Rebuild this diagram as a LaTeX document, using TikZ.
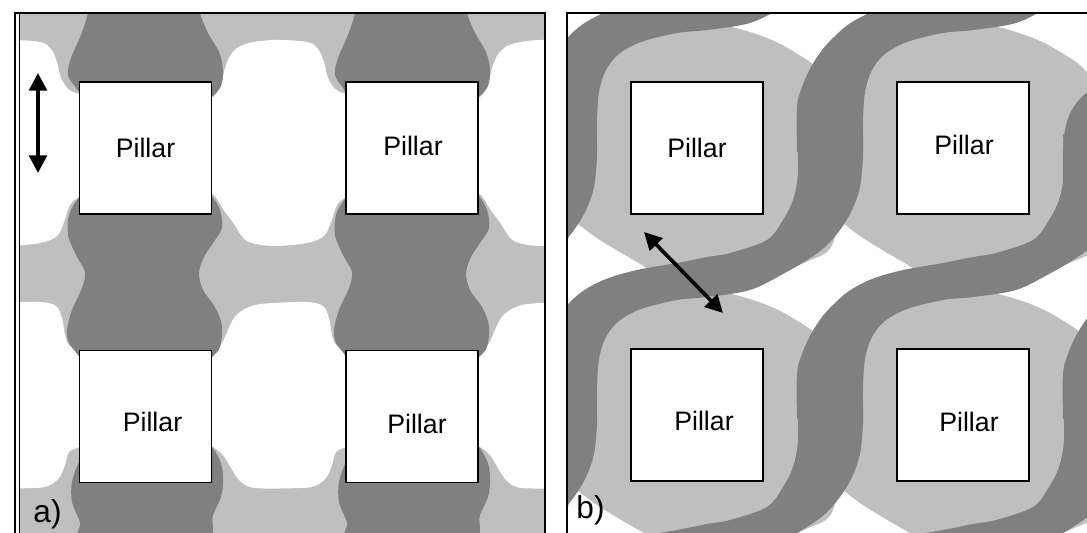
\documentclass[tikz,border=0pt]{standalone}
\usepackage{fontspec}
\setmainfont{Liberation Sans}
\usetikzlibrary{arrows.meta}

\definecolor{poreDark}{gray}{0.5}
\definecolor{poreLight}{gray}{0.75}

\begin{document}
\begin{tikzpicture}[x=0.025cm, y=-0.025cm,
        pillar/.style={rectangle, draw=black, fill=white, line width=1.3pt, minimum size=3.3cm, inner sep=0pt},
        tag/.style={font=\fontsize{19}{23}\selectfont},
        panelTag/.style={font=\fontsize{22.5}{26}\selectfont},
        frame/.style={line width=1.4pt},
        gap/.style={{Triangle[length=12.5pt,width=12.5pt]}-{Triangle[length=12.5pt,width=12.5pt]}, line width=2.6pt},
        band/.style={poreDark},
    ]
    \useasboundingbox (0,0) rectangle (1087,533);

    % a) columns
    \begin{scope}
        \clip (19.5,13) rectangle (545,540);
        \fill[poreLight] (0,0) rectangle (560,540);
        \foreach \dx in {-267,0,267} {
            \fill[white, shift={(\dx,0)}] plot[smooth cycle, tension=0.55] coordinates {(200,100) (213,97) (221,85) (225,68) (232,53) (245,44) (273,40) (307,42) (318,49) (324,62) (328,78) (336,90) (346,94) (360,100) (360,190) (346,197) (337,205) (331,222) (324,236) (307,243) (273,246) (247,241) (234,224) (223,209) (213,194) (200,190)};
            \fill[white, shift={(\dx,0)}] plot[smooth cycle, tension=0.55] coordinates {(200,355) (213,352) (222,343) (228,330) (234,318) (243,310) (255,305) (273,303) (307,302) (323,306) (329,318) (332,335) (336,345) (346,350) (360,355) (360,440) (346,447) (336,452) (332,465) (326,478) (315,486) (300,488) (255,488) (240,481) (231,468) (223,455) (213,447) (200,440)};
        }
        \foreach \dx in {0,267}
            \fill[poreDark, shift={(\dx,0)}] plot[smooth cycle, tension=0.55] coordinates {(88,0) (88,13) (81,35) (71,58) (68,75) (76,88) (90,110) (92,148) (90,185) (77,200) (69,215) (68,235) (76,255) (85,272) (82,288) (72,310) (67,330) (69,343) (78,355) (92,375) (92,416) (92,440) (79,462) (72,482) (72,502) (80,522) (86,545) (201,545) (213,515) (222,493) (222,467) (213,448) (198,430) (198,416) (198,370) (212,357) (220,347) (222,326) (215,307) (203,290) (199,273) (204,257) (213,243) (222,228) (220,210) (212,196) (198,180) (198,148) (198,110) (212,97) (221,86) (223,70) (219,52) (208,33) (200,13) (200,0)};
    \end{scope}

    % b) bands
    \begin{scope}
        \clip (567,13) rectangle (1095,540);
        \foreach \i in {-1,0,1,2}
            \foreach \j in {-1,0,1,2}
                \fill[poreLight, shift={({631+266*\i},{82+267*\j})}] plot[smooth cycle, tension=0.55] coordinates {(-60,-20) (-20,-55) (30,-62) (80,-58) (105,-54) (136,-44) (160,-32) (188,-12) (205,20) (205,150) (175,180) (100,200) (40,198) (6,180) (-31,158) (-54,141) (-66,128) (-75,60)};
        \foreach \i/\j in {-1/0, -1/1, -1/2, 0/0, 0/1, 0/2, 1/0, 1/1, 1/2, 2/1, 2/2}
            \fill[band, shift={({631+266*\i},{82+267*\j})}] plot[smooth, tension=0.55] coordinates {(-100,70) (-100,25) (-95,5) (-86,-15) (-75,-32) (-63,-45) (-48,-58) (-25,-70) (6,-79) (46,-86) (76,-92) (99,-96) (136,-109) (152,-129) (162,-149) (167,-176) (166,-215)}
                -- plot[smooth, tension=0.55] coordinates {(232,-215) (232,-192) (229,-162) (221,-139) (209,-119) (194,-102) (176,-89) (152,-75) (119,-59) (76,-52) (46,-49) (10,-40) (-12,-28) (-25,-12) (-32,10) (-34,40) (-34,70)} -- cycle;
        % band at the right edge, set a little lower
        \fill[band] plot[smooth, tension=0.55] coordinates {(1063,200) (1063,150) (1066,125) (1073,108) (1084,95) (1100,85) (1120,78)} -- (1140,78) -- (1140,200) -- cycle;
    \end{scope}

    % pillars
    \node[pillar, label={[tag]center:Pillar}] (aTL) at (145.5,148) {};
    \node[pillar, label={[tag, shift={(1,-2)}]center:Pillar}] (aTR) at (412,148) {};
    \node[pillar, label={[tag, shift={(7,5)}]center:Pillar}] (aBL) at (145.5,416.5) {};
    \node[pillar, label={[tag, shift={(5,7)}]center:Pillar}] (aBR) at (412,416.5) {};
    \node[pillar, label={[tag]center:Pillar}] (bTL) at (697,148) {};
    \node[pillar, label={[tag, shift={(1,-3)}]center:Pillar}] (bTR) at (963,148) {};
    \node[pillar, label={[tag, shift={(7,6)}]center:Pillar}] (bBL) at (697,415) {};
    \node[pillar, label={[tag, shift={(6,7)}]center:Pillar}] (bBR) at (963,415) {};

    % arrows
    \coordinate (aUp) at (38,73);
    \coordinate (aDown) at (38,173);
    \draw[gap] (aUp) -- (aDown);
    \coordinate (bUp) at (644,232);
    \coordinate (bDown) at (723,313);
    \draw[gap] (bUp) -- (bDown);

    % frames
    \draw[frame] (15,540) -- (15,13) -- (545,13) -- (545,540);
    \draw[line width=0.8pt] (19.5,13) -- (19.5,540);
    \draw[frame] (567,540) -- (567,13) -- (1095,13);

    \node[panelTag] (aLabel) at (47.5,514) {a)};
    \node[panelTag] (bLabel) at (590.5,510) {b)};
\end{tikzpicture}
\end{document}
